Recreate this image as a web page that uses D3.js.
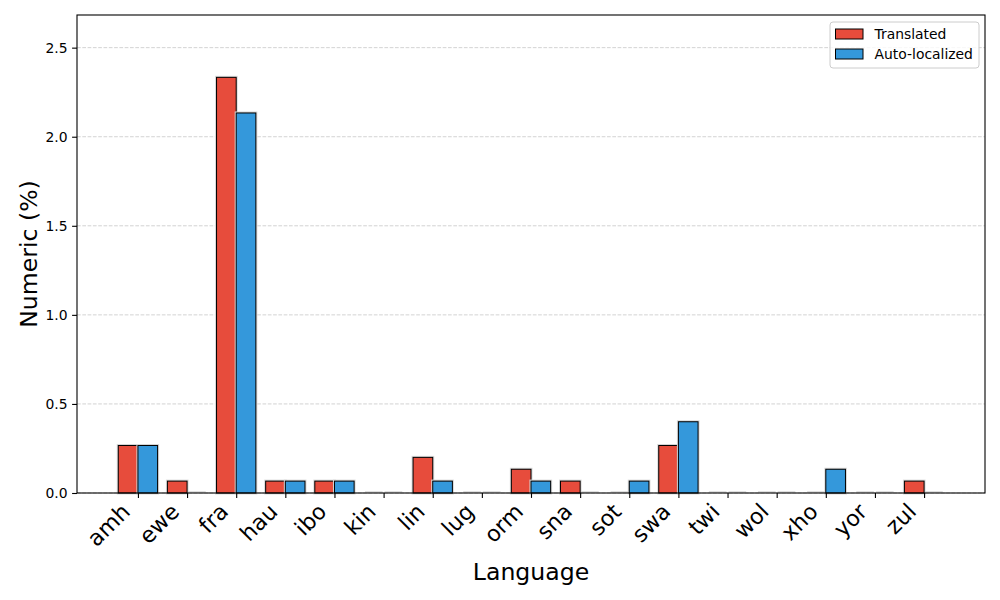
<!DOCTYPE html>
<html>
<head>
<meta charset="utf-8">
<script src="https://cdn.jsdelivr.net/npm/d3@7"></script>
<style>
  html, body { margin: 0; padding: 0; background: #fff; }
  text { font-family: "DejaVu Sans", sans-serif; fill: #000; }
</style>
</head>
<body>
<svg id="chart" width="1000" height="600"></svg>
<script>
const languages = ["amh","ewe","fra","hau","ibo","kin","lin","lug","orm","sna","sot","swa","twi","wol","xho","yor","zul"];
const translated = [0.2667,0.0667,2.3333,0.0667,0.0667,0,0.2,0,0.1333,0.0667,0,0.2667,0,0,0,0,0.0667];
const autoLocalized = [0.2667,0,2.1333,0.0667,0.0667,0,0.0667,0,0.0667,0,0.0667,0.4,0,0,0.1333,0,0];
const yTicks = [0.0,0.5,1.0,1.5,2.0,2.5];
const seriesNames = ["Translated","Auto-localized"];
const seriesColors = ["#e74c3c","#3498db"];

const svg = d3.select("#chart");
const L = 77, R = 985, T = 15, B = 493;
const barW = 0.4;
const n = languages.length;
const xmin = -barW, xmax = (n - 1) + barW;
const pad = (xmax - xmin) * 0.05;
const x = d3.scaleLinear().domain([xmin - pad, xmax + pad]).range([L, R]);
const ymax = d3.max(translated.concat(autoLocalized)) * 1.15;
const y = d3.scaleLinear().domain([0, ymax]).range([B, T]);

// grid
svg.append("g").selectAll("line").data(yTicks).join("line")
  .attr("x1", L).attr("x2", R)
  .attr("y1", d => y(d)).attr("y2", d => y(d))
  .attr("stroke", "#b0b0b0").attr("stroke-opacity", 0.7)
  .attr("stroke-width", 0.8).attr("stroke-dasharray", "3.7,1.6");

// bars
const series = [translated, autoLocalized];
series.forEach((vals, si) => {
  const off = si === 0 ? -barW / 2 : barW / 2;
  const g = svg.append("g");
  const data = vals.map((v, i) => ({ v, i }));
  g.selectAll("rect.halo").data(data.filter(d => d.v > 0)).join("rect")
    .attr("class", "halo")
    .attr("x", d => x(d.i + off - barW / 2))
    .attr("y", d => y(d.v))
    .attr("width", d => x(d.i + off + barW / 2) - x(d.i + off - barW / 2))
    .attr("height", d => y(0) - y(d.v))
    .attr("fill", "none").attr("stroke", "#d8d8d8").attr("stroke-width", 3);
  g.selectAll("line.zero").data(data.filter(d => d.v === 0)).join("line")
    .attr("class", "zero")
    .attr("x1", d => x(d.i + off - barW / 2) + 1)
    .attr("x2", d => x(d.i + off + barW / 2) - 1)
    .attr("y1", y(0) - 1).attr("y2", y(0) - 1)
    .attr("stroke", "#d4d4d4").attr("stroke-width", 1.5);
  g.selectAll("rect.bar").data(data.filter(d => d.v > 0)).join("rect")
    .attr("class", "bar")
    .attr("x", d => x(d.i + off - barW / 2))
    .attr("y", d => y(d.v))
    .attr("width", d => x(d.i + off + barW / 2) - x(d.i + off - barW / 2))
    .attr("height", d => y(0) - y(d.v))
    .attr("fill", seriesColors[si]).attr("stroke", "#000").attr("stroke-width", 1);
});

// y axis
const yAxis = d3.axisLeft(y).tickValues(yTicks).tickFormat(d3.format(".1f")).tickSize(4.9).tickPadding(4.5);
const ya = svg.append("g").attr("transform", `translate(${L},0)`).call(yAxis);
ya.select(".domain").remove();
ya.selectAll("text").style("font-family", "DejaVu Sans").style("font-size", "13.9px").attr("fill", "#000");
ya.selectAll("line").attr("stroke", "#000").attr("stroke-width", 1.1);

// x axis (ticks only via axis; labels drawn explicitly)
const xAxis = d3.axisBottom(x).tickValues(d3.range(n)).tickFormat("").tickSize(4.9);
const xa = svg.append("g").attr("transform", `translate(0,${B})`).call(xAxis);
xa.select(".domain").remove();
xa.selectAll("line").attr("stroke", "#000").attr("stroke-width", 1.1);
svg.append("g").selectAll("text").data(languages).join("text")
  .attr("transform", (d, i) => `translate(${x(i) - 6.5},${B + 20}) rotate(-45)`)
  .attr("text-anchor", "end")
  .style("font-size", "22.2px")
  .text(d => d);

// frame
svg.append("rect").attr("x", L).attr("y", T).attr("width", R - L).attr("height", B - T)
  .attr("fill", "none").attr("stroke", "#000").attr("stroke-width", 1.1);

// axis labels
svg.append("text").attr("x", (L + R) / 2).attr("y", 580).attr("text-anchor", "middle")
  .style("font-size", "23.6px").text("Language");
svg.append("text").attr("transform", `translate(36.5,${(T + B) / 2}) rotate(-90)`)
  .attr("text-anchor", "middle").style("font-size", "23.6px").text("Numeric (%)");

// legend
const lg = svg.append("g");
lg.append("rect").attr("x", 830).attr("y", 22).attr("width", 149).attr("height", 46)
  .attr("rx", 3).attr("fill", "#fff").attr("fill-opacity", 0.8)
  .attr("stroke", "#cccccc").attr("stroke-width", 1);
seriesNames.forEach((name, i) => {
  const yy = 29 + i * 20;
  lg.append("rect").attr("x", 835.5).attr("y", yy).attr("width", 27.5).attr("height", 10)
    .attr("fill", seriesColors[i]).attr("stroke", "#000").attr("stroke-width", 1);
  lg.append("text").attr("x", 874.5).attr("y", yy + 9.5).style("font-size", "13.9px").text(name);
});
</script>
</body>
</html>
